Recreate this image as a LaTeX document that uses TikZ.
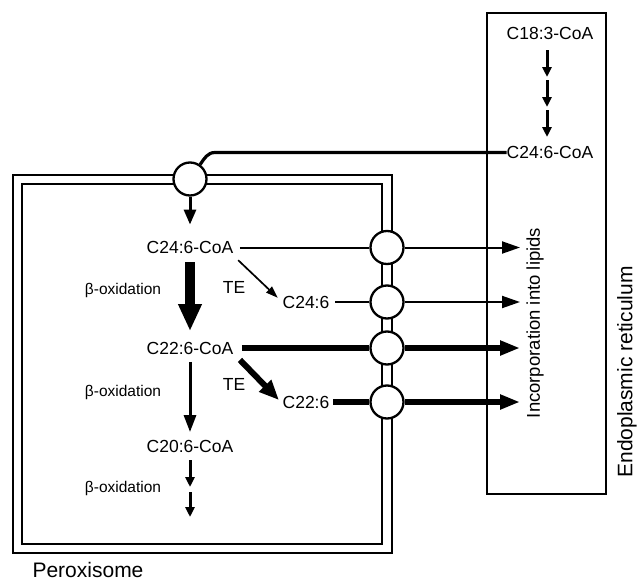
\documentclass[tikz,border=0pt]{standalone}
\usepackage{fontspec}
\setmainfont{Liberation Sans}
\usetikzlibrary{arrows.meta}
\begin{document}
\begin{tikzpicture}[x=1pt,y=-1pt,
  lbl/.style={inner sep=0pt,text height=12.5pt,text depth=0pt,font=\fontsize{17.5}{20}\selectfont},
  boxo/.style={line width=2pt},
  pore/.style={circle,draw,fill=white,line width=2.3pt,minimum size=33pt,inner sep=0pt},
  thinarr/.style={line width=2pt,-{Triangle[length=18pt,width=12pt]}},
  thickarr/.style={line width=6pt,-{Triangle[length=20pt,width=14pt]}},
  thinline/.style={line width=2pt},
  thickline/.style={line width=6pt},
  bigdown/.style={line width=10pt,-{Triangle[length=27pt,width=22pt]}},
  middown/.style={line width=3pt,-{Triangle[length=17pt,width=12pt]}},
  smalldown/.style={line width=3pt,-{Triangle[length=10pt,width=9pt]}},
  tethin/.style={line width=1.7pt,-{Triangle[length=12pt,width=8pt]}},
  tethick/.style={line width=6pt,-{Triangle[length=20pt,width=16pt]}},
  beta/.style={font=\fontsize{15.5}{18}\selectfont,inner sep=0pt},
  big/.style={font=\fontsize{21}{24}\selectfont,inner sep=0pt}]
\useasboundingbox (0,0) rectangle (638,581);
% ER box
\draw[line width=2.5pt] (487,13) rectangle (606,494);
% peroxisome double membrane
\draw[boxo] (13,175) rectangle (392,553);
\draw[boxo] (22,184) rectangle (382,544);
% pores
\node[pore] (ptop) at (190,179) {};
\node[pore] (p1) at (387,247.5) {};
\node[pore] (p2) at (387,302) {};
\node[pore] (p3) at (387,348) {};
\node[pore] (p4) at (387,402) {};
% labels
\node[lbl] (c18) at (550,33) {C18:3-CoA};
\node[lbl] (c24er) at (550,152.5) {C24:6-CoA};
\node[lbl] (c24coa) at (190,247.5) {C24:6-CoA};
\node[lbl] (c24) at (306,302) {C24:6};
\node[lbl] (c22coa) at (190,348) {C22:6-CoA};
\node[lbl] (c22) at (306,402) {C22:6};
\node[lbl] (c20coa) at (190,446) {C20:6-CoA};
\node[lbl] (te1) at (234,287) {TE};
\node[lbl] (te2) at (234,384) {TE};
\node[beta] (b1) at (123,290) {β-oxidation};
\node[beta] (b2) at (123,392) {β-oxidation};
\node[beta] (b3) at (123,488) {β-oxidation};
\node[big] (perox) at (88,570) {Peroxisome};
\node[big,rotate=90] (er) at (627,372) {Endoplasmic reticulum};
\node[font=\fontsize{18.5}{21}\selectfont,inner sep=0pt,rotate=90] (inc) at (535,323) {Incorporation into lipids};
% coordinates
\coordinate (bend) at (215,152.5);
\coordinate (a0) at (547,50);  \coordinate (a1) at (547,77);
\coordinate (b0) at (547,80);  \coordinate (b1) at (547,107);
\coordinate (e0) at (547,110); \coordinate (e1) at (547,137);
\coordinate (d0) at (190,460); \coordinate (d1) at (190,487);
\coordinate (f0) at (190,492); \coordinate (f1) at (190,517);
\coordinate (t1) at (520,247.5);
\coordinate (t2) at (520,302);
\coordinate (t3) at (520,348);
\coordinate (t4) at (520,402);
% ER chain
\draw[smalldown] (a0) -- (a1);
\draw[smalldown] (b0) -- (b1);
\draw[smalldown] (e0) -- (e1);
% transport into peroxisome
\draw[line width=3.2pt] (ptop.55) to[out=55,in=180] (bend) -- (c24er.west);
\draw[line width=3pt,-{Triangle[length=15pt,width=12pt]},shorten >=16.5pt] (ptop) -- (ptop |- c24coa.north);
% beta-oxidation
\draw[bigdown,shorten <=8.5pt,shorten >=10.5pt] (c24coa) -- (c22coa);
\draw[middown,shorten <=7.5pt,shorten >=7.5pt] (c22coa) -- (c20coa);
\draw[smalldown] (d0) -- (d1);
\draw[smalldown] (f0) -- (f1);
% TE
\draw[tethin] ([shift={(4.7,6.25)}]c24coa.south east) -- ([shift={(-4.7,2.25)}]c24.north west);
\draw[tethick] ([shift={(6.5,5.5)}]c22coa.south east) -- ([shift={(-3.5,4.5)}]c22.north west);
% export lines
\draw[thinline,shorten <=6.5pt] (c24coa.east) -- (p1);
\draw[thinline,shorten <=5.5pt] (c24.east) -- (p2);
\draw[thickline,shorten <=8.5pt] (c22coa.east) -- (p3);
\draw[thickline,shorten <=3.5pt] (c22.east) -- (p4);
\draw[thinarr] (p1) -- (t1);
\draw[thinarr] (p2) -- (t2);
\draw[thickarr] (p3) -- (t3);
\draw[thickarr] (p4) -- (t4);
\end{tikzpicture}
\end{document}
